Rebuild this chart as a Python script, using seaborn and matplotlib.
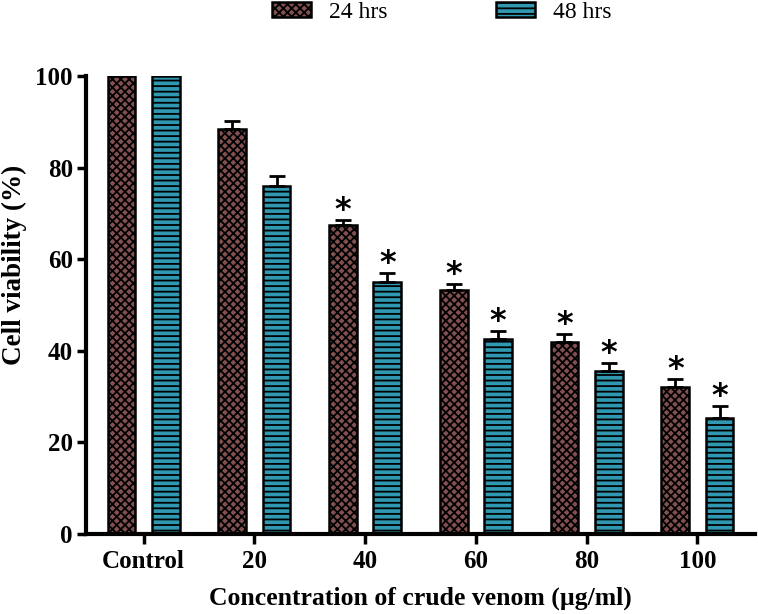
import numpy as np
import pandas as pd
import matplotlib
matplotlib.use("Agg")
import matplotlib.pyplot as plt
import seaborn as sns

# dados
concentracoes = ["Control", "20", "40", "60", "80", "100"]
grupos = ["24 hrs", "48 hrs"]
viab_24 = [100, 88.4, 67.5, 53.3, 41.9, 32.1]
viab_48 = [100, 76.0, 55.0, 42.6, 35.6, 25.3]
erro_24 = [0, 1.7, 1.1, 1.3, 1.7, 1.7]
erro_48 = [0, 2.2, 2.0, 1.7, 1.7, 2.6]
signif_24 = [False, False, True, True, True, True]
signif_48 = [False, False, True, True, True, True]

df = pd.DataFrame({
    "Concentracao": concentracoes * 2,
    "Grupo": [grupos[0]] * 6 + [grupos[1]] * 6,
    "Viabilidade": viab_24 + viab_48,
})
erros = erro_24 + erro_48
signif = signif_24 + signif_48

sns.set_style("ticks", {"text.color": "black", "axes.labelcolor": "black",
                        "xtick.color": "black", "ytick.color": "black",
                        "axes.edgecolor": "black"})
plt.rcParams["font.family"] = ["Liberation Serif", "DejaVu Serif"]
plt.rcParams["hatch.linewidth"] = 1.3

fig = plt.figure(figsize=(7.58, 6.14), dpi=100)
ax = fig.add_axes([0.1135, 0.1303, 0.8825, 0.7457])

cores = {"24 hrs": "#8a4848", "48 hrs": "#1aa6c6"}
sns.barplot(data=df, x="Concentracao", y="Viabilidade", hue="Grupo",
            order=concentracoes, hue_order=grupos, palette=cores,
            width=0.8, gap=0.375, errorbar=None, edgecolor="black",
            linewidth=1.8, ax=ax, legend=True)

hatches = {"24 hrs": "xxxx", "48 hrs": "---"}
n = len(concentracoes)
barras = ax.patches[:2 * n]
for i, p in enumerate(barras):
    g = grupos[i // n]
    p.set_hatch(hatches[g])
    p.set_edgecolor("black")

# barras de erro (somente para cima) e asteriscos
for i, p in enumerate(barras):
    xc = p.get_x() + p.get_width() / 2
    topo = p.get_height()
    if erros[i] > 0:
        ax.errorbar(xc, topo, yerr=[[0], [erros[i]]], fmt="none",
                    ecolor="black", elinewidth=2, capsize=5.5, capthick=2)
    if signif[i]:
        ax.text(xc, topo + erros[i] + 0.3, "*", ha="center", va="baseline",
                fontsize=23, fontweight="bold", color="black",
                family="DejaVu Sans")

ax.set_ylim(0, 100)
ax.set_xlim(-0.52, 5.52)
ax.set_yticks([0, 20, 40, 60, 80, 100])
ax.set_xlabel("Concentration of crude venom (\u00b5g/ml)", fontsize=18.5,
              fontweight="bold", labelpad=10)
ax.set_ylabel("Cell viability (%)", fontsize=19.5, fontweight="bold",
              va="center", ha="center")
ax.yaxis.set_label_coords(-0.107, 0.587)
for lab in ax.get_xticklabels() + ax.get_yticklabels():
    lab.set_fontweight("bold")
ax.tick_params(axis="x", labelsize=18, length=7.5, width=2.5, pad=4)
ax.tick_params(axis="y", labelsize=18, length=6.5, width=2.5, pad=3)
for s in ["left", "bottom"]:
    ax.spines[s].set_linewidth(3)
sns.despine(ax=ax)

# legenda no topo
handles, labels = ax.get_legend_handles_labels()
for h, g in zip(handles, labels):
    h.set_hatch(hatches[g])
    h.set_edgecolor("black")
ax.legend(handles, labels, loc="center", bbox_to_anchor=(0.583, 0.98),
          bbox_transform=fig.transFigure, ncol=2, frameon=False, fontsize=17,
          columnspacing=4.6, handlelength=1.65, handleheight=0.64,
          handletextpad=0.76, borderpad=0)

plt.savefig("out.png", dpi=100)
